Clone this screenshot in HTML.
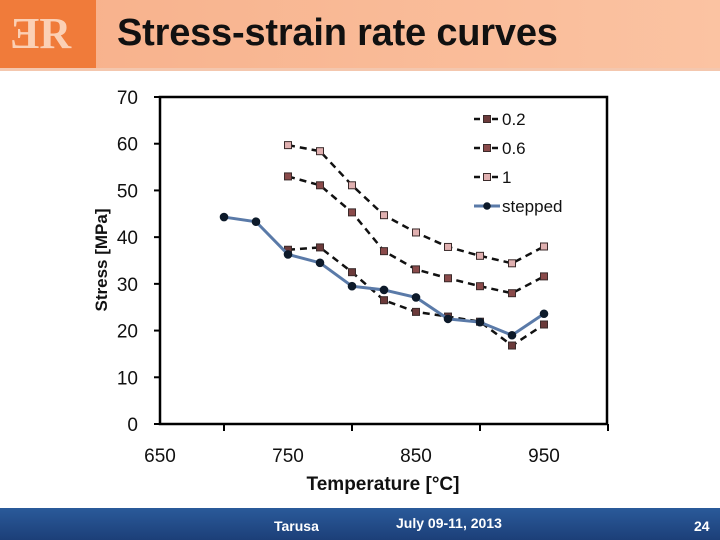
<!DOCTYPE html>
<html><head><meta charset="utf-8">
<style>
body{margin:0;width:720px;height:540px;overflow:hidden;background:#fff;font-family:"Liberation Sans",sans-serif;}
#wrap{position:relative;width:720px;height:540px;}
#hdr{position:absolute;left:0;top:0;width:720px;height:68px;background:linear-gradient(90deg,#f7b08a,#fbc3a2);}
#logo{position:absolute;left:0;top:0;width:96px;height:70px;background:#f07b3a;}
#title{position:absolute;left:117px;top:12px;font-size:38px;font-weight:bold;color:#111;letter-spacing:-0.2px;}
#hline{position:absolute;left:0;top:68px;width:720px;height:3px;background:#f4c7ae;}
#ftr{position:absolute;left:0;top:508px;width:720px;height:32px;background:linear-gradient(180deg,#2a5a9a,#1c3f78);color:#fff;font-weight:bold;font-size:14px;}
</style></head><body>
<div id="wrap">
<div id="hdr"></div>
<div id="logo"><span style="position:absolute;left:10px;top:8px;font-size:44px;font-weight:bold;color:#fbd0b5;font-family:'Liberation Serif',serif;">ƎR</span></div>
<div id="hline"></div>
<div id="title">Stress-strain rate curves</div>
<svg id="chart" width="720" height="540" style="position:absolute;left:0;top:0"></svg>
<div id="ftr">
<span style="position:absolute;left:274px;top:10px">Tarusa</span>
<span style="position:absolute;left:396px;top:7px">July 09-11, 2013</span>
<span style="position:absolute;left:694px;top:10px">24</span>
</div>
</div>
<script>
const xs=[700,725,750,775,800,825,850,875,900,925,950];
const s02=[null,null,37.3,37.8,32.5,26.5,24,23,21.9,16.8,21.3];
const s06=[null,null,53,51.1,45.3,37,33.1,31.2,29.5,28,31.6];
const s1=[null,null,59.7,58.4,51.1,44.7,41,37.9,36,34.4,38];
const sStep=[44.3,43.3,36.3,34.5,29.5,28.7,27.1,22.5,21.8,19,23.6];
const yTicks=[0,10,20,30,40,50,60,70];
const xTickLabels=["650","750","850","950"];
const xTickVals=[700,800,900,1000];
const L=160,R=607,T=97,B=424;
const X=v=>224+(v-700)*1.28;
const Y=v=>B-(v/70)*(B-T);
const svg=document.getElementById('chart');
const NS='http://www.w3.org/2000/svg';
function mk(t,a){const e=document.createElementNS(NS,t);for(const k in a)e.setAttribute(k,a[k]);svg.appendChild(e);return e;}
let e=mk('rect',{x:L,y:T,width:R-L,height:B-T,fill:'none',stroke:'#000','stroke-width':2.5});


yTicks.forEach(v=>{
 let t=mk('line',{x1:L-6,x2:L,y1:Y(v),y2:Y(v),stroke:'#000','stroke-width':2});
 
 
 let l=mk('text',{x:L-22,y:Y(v)+7,'text-anchor':'end','font-size':19,fill:'#111'});l.textContent=v;
 
 
});
xTickVals.forEach((v,i)=>{
 let t=mk('line',{x1:X(v),x2:X(v),y1:B,y2:B+7,stroke:'#000','stroke-width':2});
 
 
 let l=mk('text',{x:X(v)-64,y:B+38,'text-anchor':'middle','font-size':19,fill:'#111'});l.textContent=xTickLabels[i];
 
 
});
let xt=mk('text',{x:383,y:490,'text-anchor':'middle','font-size':19,'font-weight':'bold',fill:'#111'});xt.textContent='Temperature [°C]';


let yt=mk('text',{x:0,y:0,'text-anchor':'middle','font-size':17,'font-weight':'bold',fill:'#111',transform:'translate(107,260) rotate(-90)'});yt.textContent='Stress [MPa]';


function series(vals,name,stroke,dash,width,marker,fill){
 let pts=[];vals.forEach((v,i)=>{if(v!=null)pts.push([X(xs[i]),Y(v)]);});
 let p=mk('polyline',{points:pts.map(q=>q.join(',')).join(' '),fill:'none',stroke:stroke,'stroke-width':width,'stroke-dasharray':dash});
 
 
 pts.forEach(q=>{
  let m;
  if(marker==='sq')m=mk('rect',{x:q[0]-3.5,y:q[1]-3.5,width:7,height:7,fill:fill,stroke:'#3a2a2a','stroke-width':1});
  else m=mk('circle',{cx:q[0],cy:q[1],r:3.8,fill:'#0d1a2a',stroke:'#0d1a2a'});
  
  
 });
}
series(s02,'0-2','#111','7,5',2.5,'sq','#6b3a3a');
series(s06,'0-6','#111','7,5',2.5,'sq','#8a4a4a');
series(s1,'1','#111','7,5',2.5,'sq','#e0b0b0');
series(sStep,'stepped','#5a7aa8','',3,'ci');
const leg=[['0.2','#6b3a3a','sq'],['0.6','#8a4a4a','sq'],['1','#e0b0b0','sq'],['stepped','','ci']];
leg.forEach((d,i)=>{
 const y=119+i*29;
 let l=mk('line',{x1:474,x2:500,y1:y,y2:y,stroke:d[2]==='ci'?'#5a7aa8':'#111','stroke-width':d[2]==='ci'?3:2.5,'stroke-dasharray':d[2]==='ci'?'':'6,3'});
 
 
 let m=d[2]==='sq'?mk('rect',{x:483.5,y:y-3.5,width:7,height:7,fill:d[1],stroke:'#3a2a2a'}):mk('circle',{cx:487,cy:y,r:3.8,fill:'#0d1a2a'});
 
 
 let t=mk('text',{x:502,y:y+6,'font-size':17,fill:'#111'});t.textContent=d[0];
 
 
});
</script>
</body></html>
